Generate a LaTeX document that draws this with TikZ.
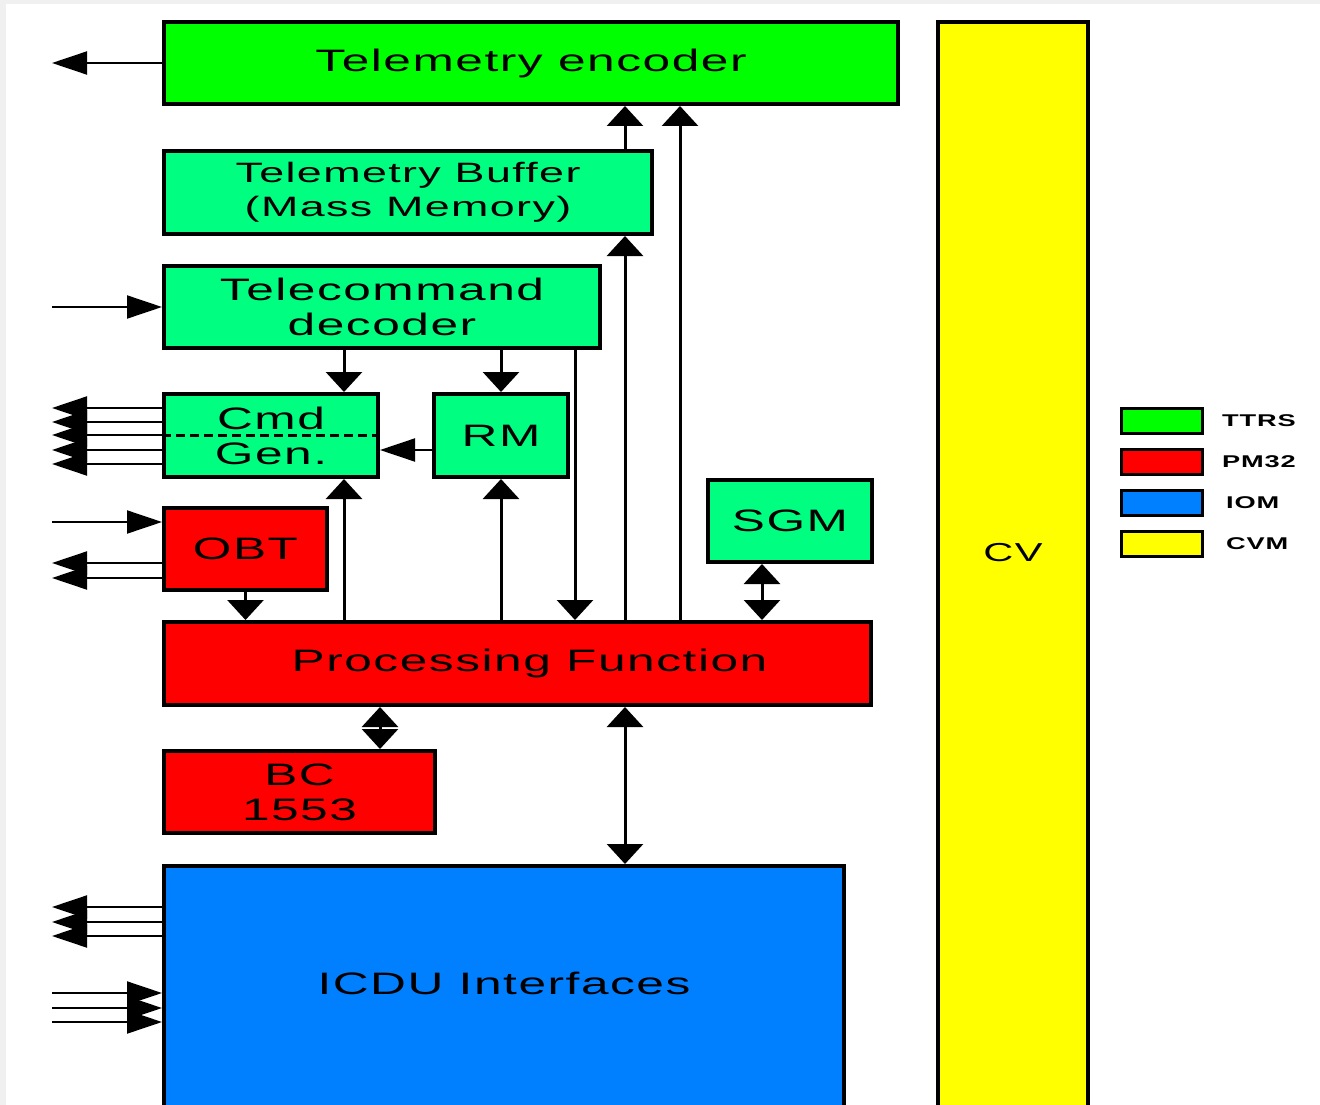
\documentclass[tikz,border=0pt]{standalone}
\usepackage{fontspec}
\setmainfont{Liberation Sans}[FakeStretch=1.6,LetterSpace=5]
\usetikzlibrary{arrows.meta,positioning}
\definecolor{ttrs}{HTML}{00FF00}
\definecolor{tcgreen}{HTML}{00FF80}
\definecolor{pm}{HTML}{FF0000}
\definecolor{iom}{HTML}{0080FF}
\definecolor{cvm}{HTML}{FFFF00}

\begin{document}
\begin{tikzpicture}[x=1pt,y=-1pt,
    blk/.style={draw,line width=4pt,inner sep=0pt,align=center,font=\fontsize{31}{35}\selectfont},
    legbox/.style={draw,line width=3pt,minimum width=81,minimum height=25,inner sep=0pt},
    leglbl/.style={font=\fontsize{17}{20}\selectfont\bfseries,inner sep=0pt},
    harr/.style={line width=2pt,-{Triangle[length=35pt,width=23pt]}},
    varr/.style={line width=3pt,-{Triangle[length=20pt,width=36pt]}},
    vboth/.style={line width=3pt,{Triangle[length=20pt,width=36pt]}-{Triangle[length=20pt,width=36pt]}}]
    \useasboundingbox (0,0) rectangle (1320,1105);
    \clip (0,0) rectangle (1320,1105);
    \fill[black!6] (0,0) rectangle (1320,1105);
    \fill[white] (6,4) rectangle (1320,1105);

    \node[blk,fill=ttrs,minimum width=734,minimum height=82] (enc) at (531,63) {Telemetry encoder};
    \node[blk,fill=tcgreen,minimum width=488,minimum height=83,font=\fontsize{28}{34}\selectfont] (buf) at (408,192.5) {Telemetry Buffer\\(Mass Memory)};
    \node[blk,fill=tcgreen,minimum width=436,minimum height=82] (tcd) at (382,307) {Telecommand\\decoder};
    \node[blk,fill=tcgreen,minimum width=214,minimum height=83] (cmd) at (271,435.5) {Cmd\\Gen.};
    \node[blk,fill=tcgreen,minimum width=134,minimum height=83] (rm) at (501,435.5) {RM};
    \node[blk,fill=pm,minimum width=163,minimum height=82] (obt) at (245.5,549) {OBT};
    \node[blk,fill=tcgreen,minimum width=164,minimum height=82] (sgm) at (790,521) {SGM};
    \node[blk,fill=pm,minimum width=707,minimum height=83] (pf) at (517.5,663.5) {\hspace*{24pt}Processing Function};
    \node[blk,fill=pm,minimum width=271,minimum height=82] (bc) at (299.5,792) {BC\\1553};
    \node[blk,fill=iom,minimum width=680,minimum height=257] (icdu) at (504,994.5) {\raisebox{11pt}[\height][\depth]{ICDU Interfaces}};
    \node[blk,fill=cvm,minimum width=150,minimum height=1101,font=\fontsize{26}{30}\selectfont] (cv) at (1013,572.5) {\raisebox{20pt}[\height][\depth]{CV}};
    \draw[line width=2.5pt,dash pattern=on 9pt off 5pt] (cmd.west) -- (cmd.east);

    \coordinate (lft) at (52,0);
    \coordinate (cg) at (344,0);
    \coordinate (bcx) at (380,0);
    \coordinate (tc) at (575,0);
    \coordinate (tb) at (625,0);
    \coordinate (te) at (680,0);
    \coordinate (sg) at (762,0);

    \draw[harr] (enc.west) -- (enc.west -| lft);
    \draw[harr] (tcd.west -| lft) -- (tcd.west);
    \foreach \y in {408,422,435,450,464} {
        \draw[harr] (cmd.west |- 0,\y) -- (lft |- 0,\y);
    }
    \draw[harr] (lft |- 0,522) -- (obt.west |- 0,522);
    \foreach \y in {563,578} {
        \draw[harr] (obt.west |- 0,\y) -- (lft |- 0,\y);
    }
    \foreach \y in {907,922,936} {
        \draw[harr] (icdu.west |- 0,\y) -- (lft |- 0,\y);
    }
    \foreach \y in {993,1008,1022} {
        \draw[harr] (lft |- 0,\y) -- (icdu.west |- 0,\y);
    }
    \draw[harr] (rm.west |- 0,450) -- (cmd.east |- 0,450);

    \draw[varr] (cg |- tcd.south) -- (cg |- cmd.north);
    \draw[varr] (rm.north |- tcd.south) -- (rm.north);
    \draw[varr] (tc |- tcd.south) -- (tc |- pf.north);
    \draw[varr] (cg |- pf.north) -- (cg |- cmd.south);
    \draw[varr] (rm.south |- pf.north) -- (rm.south);
    \draw[varr] (obt.south) -- (obt.south |- pf.north);
    \draw[varr] (tb |- pf.north) -- (tb |- buf.south);
    \draw[varr] (tb |- buf.north) -- (tb |- enc.south);
    \draw[varr] (te |- pf.north) -- (te |- enc.south);
    \draw[vboth] (sg |- sgm.south) -- (sg |- pf.north);
    \draw[vboth] (bcx |- pf.south) -- (bcx |- bc.north);
    \draw[vboth] (tb |- pf.south) -- (tb |- icdu.north);

    \node[legbox,fill=ttrs] (lg1) at (1162,421) {};
    \node[legbox,fill=pm,below=13pt of lg1] (lg2) {};
    \node[legbox,fill=iom,below=13pt of lg2] (lg3) {};
    \node[legbox,fill=cvm,below=13pt of lg3] (lg4) {};
    \node[leglbl,right=18pt of lg1] (lt1) {TTRS};
    \node[leglbl,right=18pt of lg2] (lt2) {PM32};
    \node[leglbl,right=22pt of lg3] (lt3) {IOM};
    \node[leglbl,right=22pt of lg4] (lt4) {CVM};
\end{tikzpicture}
\end{document}
